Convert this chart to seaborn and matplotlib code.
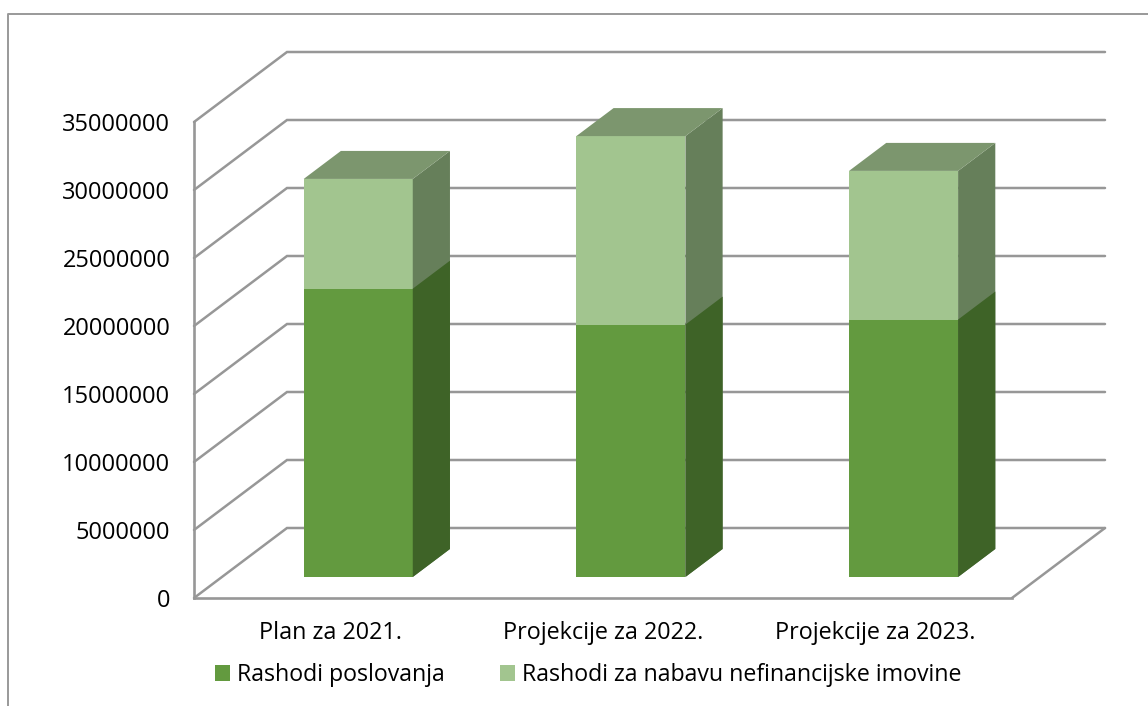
import matplotlib
matplotlib.use('Agg')
import pandas as pd
import seaborn as sns
import matplotlib.pyplot as plt
from matplotlib.lines import Line2D
from matplotlib.patches import Patch, Polygon

# values
categories = ['Plan za 2021.', 'Projekcije za 2022.', 'Projekcije za 2023.']
poslovanje = [21200000, 18560000, 18930000]
nabava = [8070000, 13860000, 10930000]
series_names = ['Rashodi poslovanja', 'Rashodi za nabavu nefinancijske imovine']
y_ticks = [0, 5000000, 10000000, 15000000, 20000000, 25000000, 30000000, 35000000]

W, H = 1148, 706
GREY = '#979797'
DARK = {'front': '#639A3F', 'side': '#3E6327', 'top': '#3E6327'}
LIGHT = {'front': '#A2C58F', 'side': '#667F5A', 'top': '#7C966E'}

sns.set_theme(style='white')
plt.rcParams['font.family'] = ['Open Sans', 'DejaVu Sans']

df = pd.DataFrame({'kategorija': categories, 'poslovanje': poslovanje, 'nabava': nabava})
df['ukupno'] = df['poslovanje'] + df['nabava']

fig = plt.figure(figsize=(W / 100, H / 100), dpi=100)
ax = fig.add_axes([194 / W, (H - 598) / H, (1012 - 194) / W, (598 - 122) / H])

# light bar is the total, the dark one sits over it
sns.barplot(data=df, x='kategorija', y='ukupno', color=LIGHT['front'], saturation=1,
            width=0.4, ax=ax, zorder=4)
n_light = len(ax.patches)
sns.barplot(data=df, x='kategorija', y='poslovanje', color=DARK['front'], saturation=1,
            width=0.4, ax=ax, zorder=5)
ax.set_xlim(-0.5, 2.5)
ax.set_ylim(0, 35000000)

# fake 3D depth, in data units
wall_dx = 93 / (818 / 3)
wall_dy = 70 / (476 / 35000000)
bar_off_x, bar_off_y = wall_dx * 0.30, wall_dy * 0.30
bar_dx, bar_dy = wall_dx * 0.40, wall_dy * 0.40

for i, p in enumerate(ax.patches):
    x0, x1 = p.get_x() + bar_off_x, p.get_x() + p.get_width() + bar_off_x
    y0, y1 = p.get_y() + bar_off_y, p.get_height() + bar_off_y
    p.set_x(x0)
    p.set_y(y0)
    p.set_clip_on(False)
    p.set_linewidth(0)
    col = LIGHT if i < n_light else DARK
    side = [(x1, y0), (x1 + bar_dx, y0 + bar_dy), (x1 + bar_dx, y1 + bar_dy), (x1, y1)]
    ax.add_patch(Polygon(side, facecolor=col['side'], lw=0, zorder=p.get_zorder(), clip_on=False))
    if i < n_light:
        top = [(x0, y1), (x1, y1), (x1 + bar_dx, y1 + bar_dy), (x0 + bar_dx, y1 + bar_dy)]
        ax.add_patch(Polygon(top, facecolor=col['top'], lw=0, zorder=p.get_zorder(), clip_on=False))

# walls and floor
for v in y_ticks:
    ax.plot([-0.5, -0.5 + wall_dx, 2.5 + wall_dx], [v, v + wall_dy, v + wall_dy],
            color=GREY, lw=1.8, clip_on=False, zorder=1, solid_joinstyle='miter')
ax.plot([2.5, 2.5 + wall_dx], [0, wall_dy], color=GREY, lw=1.8, clip_on=False, zorder=1)

sns.despine(ax=ax, top=True, right=True)
for s in ['left', 'bottom']:
    ax.spines[s].set_color(GREY)
    ax.spines[s].set_linewidth(1.9)

ax.set_xlabel('')
ax.set_ylabel('')
ax.set_yticks(y_ticks)
ax.set_yticklabels([str(v) for v in y_ticks])
ax.tick_params(axis='y', length=0, pad=17, labelsize=17, labelcolor='black')
ax.tick_params(axis='x', length=0, pad=16.5, labelsize=16.8, labelcolor='black')

handles = [Patch(facecolor=DARK['front'], lw=0), Patch(facecolor=LIGHT['front'], lw=0)]
fig.legend(handles, series_names, loc='center', bbox_to_anchor=(588.5 / W, (H - 675) / H),
           ncol=2, frameon=False, fontsize=16.7, handlelength=0.65, handleheight=0.65,
           handletextpad=0.3, columnspacing=2.37, labelcolor='black')

# chart border, cut off on the right and at the bottom
fig.add_artist(Line2D([1, 8 / W, 8 / W], [(H - 14) / H, (H - 14) / H, 0],
                      transform=fig.transFigure, color='#999999', lw=1.4))

fig.savefig('out.png', dpi=100)
